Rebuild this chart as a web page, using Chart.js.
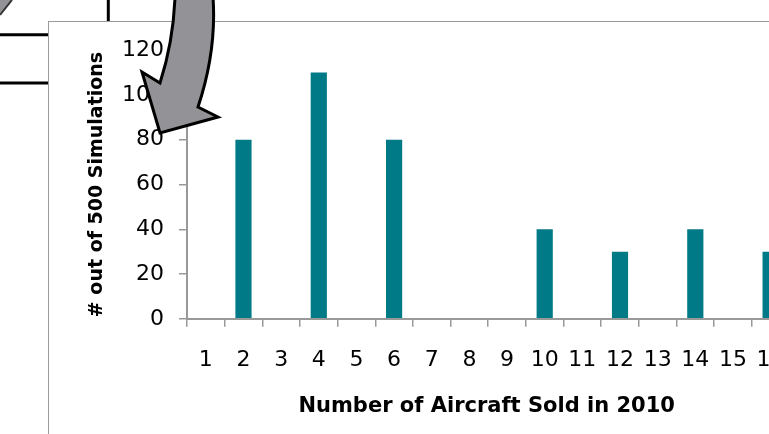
<!DOCTYPE html>
<html>
<head>
<meta charset="utf-8">
<script src="https://cdn.jsdelivr.net/npm/chart.js@4.4.1/dist/chart.umd.min.js"></script>
<style>
body { margin:0; width:769px; height:434px; overflow:hidden; background:#fff; position:relative; }
svg { position:absolute; left:0; top:0; }
#box { position:absolute; left:48px; top:21px; width:900px; height:500px; border:1px solid #9a9a9a; background:#fff; }
#myChart { display:block; }
</style>
</head>
<body>
<!-- table lines behind the chart box -->
<svg width="769" height="434">
  <polygon points="0,0 12,0 0,15" fill="#939397"/>
  <line x1="12" y1="0" x2="0" y2="15" stroke="#333" stroke-width="2"/>
  <line x1="0" y1="34.7" x2="48" y2="34.7" stroke="#000" stroke-width="3"/>
  <line x1="0" y1="83" x2="48" y2="83" stroke="#000" stroke-width="3"/>
  <line x1="108.3" y1="0" x2="108.3" y2="21" stroke="#000" stroke-width="3"/>
</svg>
<div id="box"><canvas id="myChart" width="880" height="412"></canvas></div>
<!-- callout arrow on top -->
<svg width="769" height="434">
  <path d="M 175 -3 C 174 25, 169 55, 160 83 L 142 72 L 160 133 L 218 117 L 198 107 C 207 80, 216 40, 213 -3 Z"
        fill="#939397" stroke="#000" stroke-width="3" stroke-linejoin="miter"/>
</svg>
<script>
var aircraftSold = ["1","2","3","4","5","6","7","8","9","10","11","12","13","14","15","16","17","18","19"];
var simCounts = [0, 80, 0, 110, 0, 80, 0, 0, 0, 40, 0, 30, 0, 40, 0, 30, 0, 0, 0];
var yTicks = [0, 20, 40, 60, 80, 100, 120];

Chart.defaults.font.family = "DejaVu Sans";
Chart.defaults.color = "#000";

new Chart("myChart", {
type: "bar",
data: {
    labels: aircraftSold,
    datasets: [{
    backgroundColor: "#007A87",
    data: simCounts,
    barPercentage: 0.43,
    categoryPercentage: 1.0
    }]
},
options: {
    responsive: false,
    animation: false,
    layout: { padding: { left: 22, top: 24, right: 26.6, bottom: 15 } },
    scales: {
        x: {
            grid: { drawOnChartArea: false, drawTicks: true, tickLength: 8, color: "#999", lineWidth: 1.5 },
            border: { color: "#999", width: 2 },
            ticks: { font: { size: 22 }, padding: 19.8, maxRotation: 0, autoSkip: false },
            afterFit: function(s) { s.height = 75; }
        },
        y: {
            min: 0,
            max: 120,
            grid: { drawOnChartArea: false, drawTicks: true, tickLength: 8, color: "#999", lineWidth: 1.5 },
            border: { color: "#999", width: 2 },
            ticks: { font: { size: 22 }, padding: 15 },
            afterBuildTicks: function(s) { s.ticks = yTicks.map(function(v) { return {value: v}; }); },
            title: {
                display: true,
                text: "# out of 500 Simulations",
                font: { size: 19, weight: "bold" },
                padding: { top: 15, bottom: 0 }
            },
            afterFit: function(s) { s.width = 116; }
        }
    },
    plugins: {
        legend: {display: false},
        tooltip: {enabled: false},
        title: {
            display: true,
            position: "bottom",
            text: "Number of Aircraft Sold in 2010",
            font: { size: 21, weight: "bold" },
            padding: 0
        }
    }
}
});
</script>
</body>
</html>
